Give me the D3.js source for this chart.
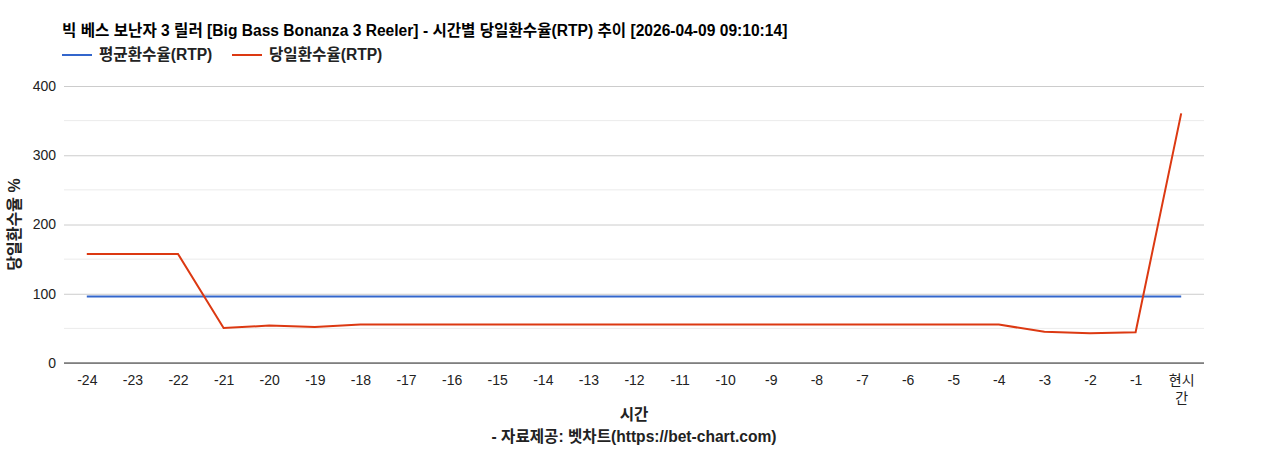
<!DOCTYPE html>
<html>
<head>
<meta charset="utf-8">
<script src="https://cdn.jsdelivr.net/npm/d3@7"></script>
<style>
  body { margin: 0; background: #fff; }
  text { font-family: "Liberation Sans", Arial, "Noto Sans CJK KR", sans-serif; }
</style>
</head>
<body>
<div id="chart"></div>
<script>
// hours before now, last one is the current hour
var hours = ["-24","-23","-22","-21","-20","-19","-18","-17","-16","-15","-14","-13","-12",
             "-11","-10","-9","-8","-7","-6","-5","-4","-3","-2","-1","현시간"];
var avgRtp = [96,96,96,96,96,96,96,96,96,96,96,96,96,96,96,96,96,96,96,96,96,96,96,96,96];
var dayRtp = [157.5,157.5,157.5,50.5,54,52,55.5,55.5,55.5,55.5,55.5,55.5,55.5,
              55.5,55.5,55.5,55.5,55.5,55.5,55.5,55.5,45,43,44.5,360.5];
var yTicks = [0,100,200,300,400];
var minorTicks = [50,150,250,350];

var width = 1268, height = 450;
var margin = {left: 64, right: 64, top: 86, bottom: 87};

var svg = d3.select('#chart').append('svg')
    .attr('width', width)
    .attr('height', height);

var x = d3.scalePoint()
    .domain(hours)
    .range([margin.left, width - margin.right])
    .padding(0.5);

var y = d3.scaleLinear()
    .domain([0, 400])
    .range([height - margin.bottom, margin.top]);

// minor gridlines
svg.append('g').selectAll('line')
    .data(minorTicks)
  .enter().append('line')
    .attr('x1', margin.left).attr('x2', width - margin.right)
    .attr('y1', function(d) { return y(d); })
    .attr('y2', function(d) { return y(d); })
    .attr('stroke', '#ebebeb');

// y axis with major gridlines
var yAxis = d3.axisLeft(y)
    .tickValues(yTicks)
    .tickSize(-(width - margin.left - margin.right))
    .tickPadding(8);

var gy = svg.append('g')
    .attr('transform', 'translate(' + margin.left + ',0)')
    .call(yAxis);
gy.select('.domain').remove();
gy.selectAll('line').attr('stroke', '#cccccc');
gy.selectAll('text')
    .attr('font-size', 14)
    .attr('fill', '#222');

// x axis
var xAxis = d3.axisBottom(x).tickSize(0).tickPadding(12);
var gx = svg.append('g')
    .attr('transform', 'translate(0,' + y(0) + ')')
    .call(xAxis);
gx.select('.domain').remove();
gx.selectAll('text')
    .attr('font-size', 14)
    .attr('fill', '#222')
    .each(function(d) {
      if (d === '현시간') {
        var t = d3.select(this).text(null);
        t.append('tspan').attr('x', 0).attr('dy', '0.71em').text('현시');
        t.append('tspan').attr('x', 0).attr('dy', '1.3em').text('간');
      }
    });

// baseline
svg.append('line')
    .attr('x1', margin.left).attr('x2', width - margin.right)
    .attr('y1', y(0)).attr('y2', y(0))
    .attr('stroke', '#333');

var line = d3.line()
    .x(function(d, i) { return x(hours[i]); })
    .y(function(d) { return y(d); });

svg.append('path')
    .datum(avgRtp)
    .attr('fill', 'none')
    .attr('stroke', '#3366cc')
    .attr('stroke-width', 2)
    .attr('d', line);

svg.append('path')
    .datum(dayRtp)
    .attr('fill', 'none')
    .attr('stroke', '#dc3912')
    .attr('stroke-width', 2)
    .attr('d', line);

var bold = 15.6;

// title
svg.append('text')
    .attr('x', 62).attr('y', 36)
    .attr('font-size', bold).attr('font-weight', 'bold').attr('fill', '#000')
    .text('빅 베스 보난자 3 릴러 [Big Bass Bonanza 3 Reeler] - 시간별 당일환수율(RTP) 추이 [2026-04-09 09:10:14]');

// legend
var legend = [
  {name: '평균환수율(RTP)', color: '#3366cc', x: 62},
  {name: '당일환수율(RTP)', color: '#dc3912', x: 232}
];
var lg = svg.append('g').selectAll('g')
    .data(legend)
  .enter().append('g')
    .attr('transform', function(d) { return 'translate(' + d.x + ',55)'; });
lg.append('line')
    .attr('x1', 0).attr('x2', 30)
    .attr('stroke', function(d) { return d.color; })
    .attr('stroke-width', 2);
lg.append('text')
    .attr('x', 37).attr('y', 5)
    .attr('font-size', bold).attr('font-weight', 'bold').attr('fill', '#222')
    .text(function(d) { return d.name; });

// axis titles
svg.append('text')
    .attr('transform', 'translate(20,' + y(200) + ') rotate(-90)')
    .attr('text-anchor', 'middle')
    .attr('font-size', 16).attr('font-weight', 'bold').attr('fill', '#222')
    .text('당일환수율 %');

svg.append('text')
    .attr('x', 634).attr('y', 420)
    .attr('text-anchor', 'middle')
    .attr('font-size', bold).attr('font-weight', 'bold').attr('fill', '#222')
    .text('시간');

svg.append('text')
    .attr('x', 634).attr('y', 442)
    .attr('text-anchor', 'middle')
    .attr('font-size', bold).attr('font-weight', 'bold').attr('fill', '#222')
    .text('- 자료제공: 벳차트(https://bet-chart.com)');
</script>
</body>
</html>
